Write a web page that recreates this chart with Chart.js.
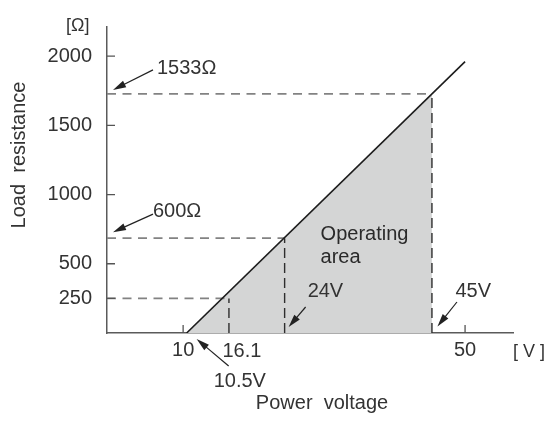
<!DOCTYPE html>
<html>
<head>
<meta charset="utf-8">
<script src="https://cdn.jsdelivr.net/npm/chart.js@4"></script>
<style>
  html, body { margin: 0; padding: 0; background: #fff; }
  #wrap { width: 546px; height: 421px; }
</style>
</head>
<body>
<div id="wrap"><canvas id="Load_Chart"></canvas></div>
<script>
// values as they sit in the figure (the figure itself is not quite to scale)
const lineVolt = [10.5, 50];
const lineOhm = [0, 1960];
const areaVolt = [10.5, 45.3, 45.3];
const areaOhm = [0, 1727, 0];
const markVolt = [16.5, 24.4, 45.3];
const markOhm = [250, 685, 1727];
const xTickValues = [10, 50];
const yTickValues = [250, 500, 1000, 1500, 2000];
const calloutTexts = ["1533Ω", "600Ω", "10.5V", "24V", "45V", "16.1"];

const FONT = "'Liberation Sans', Arial, sans-serif";
Chart.defaults.font.family = FONT;
Chart.defaults.font.size = 20;
Chart.defaults.color = "#333";

function toPoints(xs, ys) {
  return xs.map((x, i) => ({x: x, y: ys[i]}));
}

function drawArrow(ctx, x1, y1, x2, y2) {
  const a = Math.atan2(y2 - y1, x2 - x1);
  const len = 13, half = 3.6;
  const bx = x2 - len * Math.cos(a), by = y2 - len * Math.sin(a);
  ctx.beginPath();
  ctx.moveTo(x1, y1);
  ctx.lineTo(bx + 2 * Math.cos(a), by + 2 * Math.sin(a));
  ctx.stroke();
  ctx.beginPath();
  ctx.moveTo(x2, y2);
  ctx.lineTo(bx + half * Math.sin(a), by - half * Math.cos(a));
  ctx.lineTo(bx - half * Math.sin(a), by + half * Math.cos(a));
  ctx.closePath();
  ctx.fill();
}

const annotate = {
  id: "annotate",
  afterDatasetsDraw(chart) {
    const ctx = chart.ctx;
    const area = chart.chartArea;
    const px = (v) => chart.scales.x.getPixelForValue(v);
    const py = (v) => chart.scales.y.getPixelForValue(v);
    ctx.save();

    // tick marks point into the plot
    ctx.strokeStyle = "#555";
    ctx.lineWidth = 1.3;
    ctx.beginPath();
    xTickValues.forEach((v) => { ctx.moveTo(px(v), area.bottom); ctx.lineTo(px(v), area.bottom - 8); });
    yTickValues.forEach((v) => { ctx.moveTo(area.left, py(v)); ctx.lineTo(area.left + 8, py(v)); });
    ctx.stroke();

    // callouts: anchor, arrow tip, arrow tail, text (offsets in px)
    const callouts = [
      {ax: area.left, ay: py(markOhm[2]), tip: [6, -4], tail: [46, -24], txt: [50, -20]},
      {ax: area.left, ay: py(markOhm[1]), tip: [6, -6], tail: [46, -24], txt: [46, -21]},
      {ax: px(lineVolt[0]), ay: py(0), tip: [10, 6], tail: [42, 33], txt: [27, 53.5]},
      {ax: px(markVolt[1]), ay: py(0), tip: [4, -6], tail: [21, -26], txt: [23, -36.5]},
      {ax: px(markVolt[2]), ay: py(0), tip: [5.5, -6.5], tail: [25, -31], txt: [23.5, -36]},
      {ax: px(markVolt[0]), ay: py(0), txt: [-6.5, 24]},
    ];
    ctx.fillStyle = "#222";
    ctx.strokeStyle = "#222";
    ctx.lineWidth = 1.2;
    ctx.font = "20px " + FONT;
    ctx.textAlign = "left";
    ctx.textBaseline = "alphabetic";
    callouts.forEach((c, i) => {
      if (c.tip) {
        drawArrow(ctx, c.ax + c.tail[0], c.ay + c.tail[1], c.ax + c.tip[0], c.ay + c.tip[1]);
      }
      ctx.fillStyle = "#333";
      ctx.fillText(calloutTexts[i], c.ax + c.txt[0], c.ay + c.txt[1]);
      ctx.fillStyle = "#222";
    });

    ctx.fillStyle = "#2a2a2a";
    ctx.fillText("Operating", px(29.5), py(670));
    ctx.fillText("area", px(29.5), py(503));

    ctx.fillStyle = "#333";
    ctx.font = "18px " + FONT;
    ctx.fillText("[ V ]", area.right, py(0) + 24);
    ctx.fillText("[Ω]", area.left - 41, area.top + 4);

    ctx.font = "20px " + FONT;
    ctx.textAlign = "center";
    ctx.fillText("Power  voltage", 322, 408.5);
    ctx.translate(25, 155);
    ctx.rotate(-Math.PI / 2);
    ctx.fillText("Load  resistance", 0, 0);
    ctx.restore();
  }
};

showChart_Load();

function showChart_Load() {
  const ctx = document.getElementById("Load_Chart");
  const datasets = [
    {
      label: "load line",
      data: toPoints(lineVolt, lineOhm),
      borderColor: "#1c1c1c",
      borderWidth: 1.6,
      order: 0,
    },
  ];
  markVolt.forEach((v, i) => {
    datasets.push({
      label: "h" + i,
      data: toPoints([-0.8, v], [markOhm[i], markOhm[i]]),
      borderColor: "#828282",
      borderWidth: 1.6,
      borderDash: [9, 6.5],
      order: 2,
    });
    datasets.push({
      label: "v" + i,
      data: toPoints([v, v], [0, markOhm[i]]),
      borderColor: "#2e2e2e",
      borderWidth: 1.4,
      borderDash: [10, 5],
      order: 1,
    });
  });
  datasets.push({
    label: "Operating area",
    data: toPoints(areaVolt, areaOhm),
    borderWidth: 0,
    borderColor: "rgba(0,0,0,0)",
    backgroundColor: "#d4d5d5",
    fill: "origin",
    order: 3,
  });
  datasets.forEach((d) => { d.showLine = true; d.pointRadius = 0; d.tension = 0; });

  new Chart(ctx, {
    type: "scatter",
    data: {datasets: datasets},
    options: {
      responsive: true,
      maintainAspectRatio: false,
      animation: false,
      layout: {padding: {top: 19, right: 33, left: 0, bottom: 0}},
      plugins: {
        legend: {display: false},
        tooltip: {enabled: false},
      },
      scales: {
        x: {
          type: "linear",
          min: -0.8,
          max: 56.8,
          afterFit: (scale) => { scale.height = 88; },
          afterBuildTicks: (scale) => { scale.ticks = xTickValues.map((v) => ({value: v})); },
          grid: {display: false, drawTicks: false},
          border: {display: true, color: "#5a5a5a", width: 1.5},
          ticks: {padding: 5, color: "#333", maxRotation: 0, autoSkip: false, callback: (v) => String(v)},
        },
        y: {
          type: "linear",
          min: 0,
          max: 2210,
          afterFit: (scale) => { scale.width = 107; },
          afterBuildTicks: (scale) => { scale.ticks = yTickValues.map((v) => ({value: v})); },
          grid: {display: false, drawTicks: false},
          border: {display: true, color: "#5a5a5a", width: 1.5},
          ticks: {padding: 15, color: "#333", autoSkip: false, callback: (v) => String(v)},
        },
      },
    },
    plugins: [annotate],
  });
}
</script>
</body>
</html>
